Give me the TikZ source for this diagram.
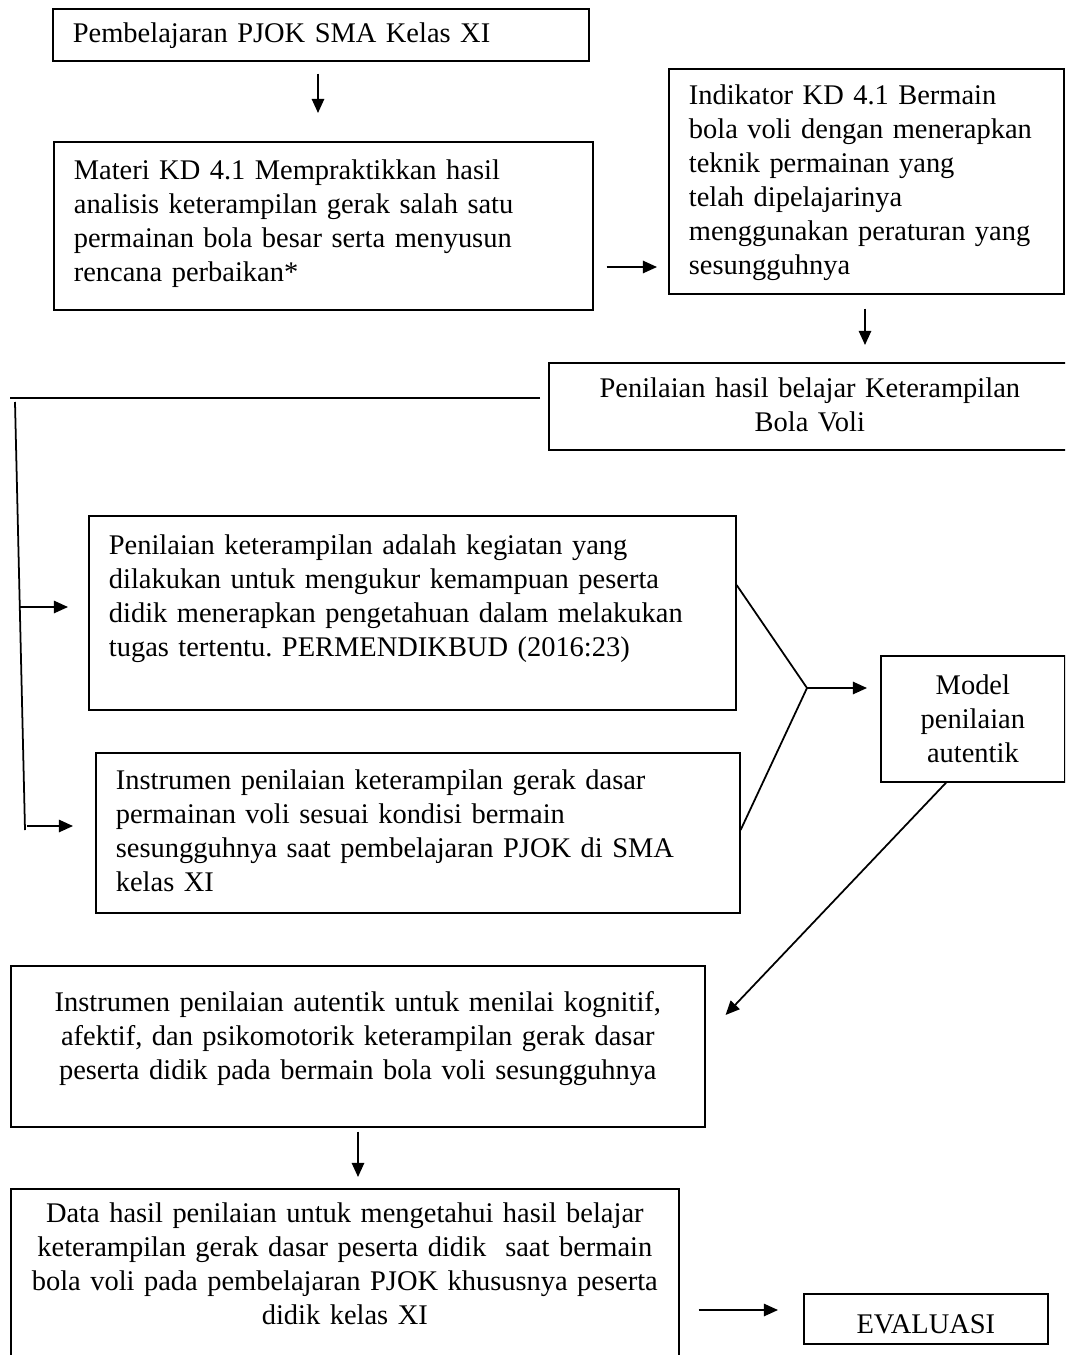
\documentclass[tikz,border=0pt]{standalone}
\usepackage{fontspec}
\setmainfont{Liberation Serif}
\usetikzlibrary{arrows.meta, positioning}

\newcommand{\boxfont}{\fontsize{16.2pt}{19.3pt}\selectfont\frenchspacing}

\tikzset{
  box/.style={draw, line width=1pt, anchor=north west, inner ysep=0pt,
    inner xsep=0.4cm, align=left, font=\boxfont},
  cbox/.style={box, inner xsep=0.1cm, align=center},
  link/.style={line width=1pt},
  arr/.style={link, -{Triangle[length=8pt, width=7pt]}}
}

\begin{document}
\begin{tikzpicture}[x=0.02cm, y=-0.02cm]
  \clip (0,0) rectangle (1065,1355);

  % Nodes
  \node[box, text width=9.92cm, text height=0.68cm, text depth=0.36cm] (pjok) at (52,8)
    {Pembelajaran PJOK SMA Kelas XI};
  \node[box, text width=9.98cm, text height=0.76cm, text depth=2.6cm] (materi) at (53,141)
    {Materi KD 4.1 Mempraktikkan hasil\\
     analisis keterampilan gerak salah satu\\
     permainan bola besar serta menyusun\\
     rencana perbaikan*};
  \node[box, text width=7.1cm, text height=0.72cm, text depth=3.78cm] (indikator) at (668,68)
    {Indikator KD 4.1 Bermain\\
     bola voli dengan menerapkan\\
     teknik permainan yang\\
     telah dipelajarinya\\
     menggunakan peraturan yang\\
     sesungguhnya};
  \node[cbox, text width=10.24cm, text height=0.7cm, text depth=1.04cm] (hasil) at (548,362)
    {Penilaian hasil belajar Keterampilan\\ Bola Voli};
  \node[box, text width=12.14cm, text height=0.78cm, text depth=3.1cm] (ketr) at (88,515)
    {Penilaian keterampilan adalah kegiatan yang\\
     dilakukan untuk mengukur kemampuan peserta\\
     didik menerapkan pengetahuan dalam melakukan\\
     tugas tertentu. PERMENDIKBUD (2016:23)};
  \node[box, text width=12.08cm, text height=0.74cm, text depth=2.46cm] (instr) at (95,752)
    {Instrumen penilaian keterampilan gerak dasar\\
     permainan voli sesuai kondisi bermain\\
     sesungguhnya saat pembelajaran PJOK di SMA\\
     kelas XI};
  \node[cbox, text width=3.48cm, text height=0.78cm, text depth=1.74cm] (model) at (880,655)
    {Model\\ penilaian\\ autentik};
  \node[cbox, text width=13.68cm, text height=0.92cm, text depth=2.3cm] (auten) at (10,965)
    {Instrumen penilaian autentik untuk menilai kognitif,\\
     afektif, dan psikomotorik keterampilan gerak dasar\\
     peserta didik pada bermain bola voli sesungguhnya};
  \node[cbox, text width=13.16cm, text height=0.68cm, text depth=4cm] (data) at (10,1188)
    {Data hasil penilaian untuk mengetahui hasil belajar\\
     keterampilan gerak dasar peserta didik~ saat bermain\\
     bola voli pada pembelajaran PJOK khususnya peserta\\
     didik kelas XI};
  \node[cbox, text width=4.68cm, text height=0.8cm, text depth=0.2cm] (eval) at (803,1293)
    {EVALUASI};

  % Edges
  \draw[arr, shorten <=0.24cm, shorten >=0.56cm] (pjok.south -| 318,0) -- (materi.north -| 318,0);
  \draw[arr, shorten <=0.26cm, shorten >=0.22cm] (materi.east |- 0,267) -- (indikator.west |- 0,267);
  \draw[arr, shorten <=0.28cm, shorten >=0.34cm] (indikator.south -| 865,0) -- (hasil.north -| 865,0);

  % bracket on the left
  \coordinate (brtop) at (10,398);
  \coordinate (brvtop) at (15,402);
  \coordinate (brvbot) at (25,830);
  \coordinate (brA) at (20,607);
  \coordinate (brB) at (27,826);
  \draw[link, shorten <=0.16cm] (hasil.west |- brtop) -- (brtop);
  \draw[link] (brvtop) -- (brvbot);
  \draw[arr, shorten >=0.4cm] (brA) -- (ketr.west |- brA);
  \draw[arr, shorten >=0.44cm] (brB) -- (instr.west |- brB);

  % both boxes into the model
  \coordinate (join) at (807,688);
  \draw[link] (ketr.east |- 0,585) -- (join);
  \draw[link] (instr.east |- 0,830) -- (join);
  \draw[arr, shorten >=0.26cm] (join) -- (model.west |- join);

  \draw[arr, shorten >=0.58cm] (model.south -| 946,0) -- (auten.east |- 0,1036);
  \draw[arr, shorten <=0.08cm, shorten >=0.22cm] (auten.south -| 358,0) -- (data.north -| 358,0);
  \draw[arr, shorten <=0.38cm, shorten >=0.5cm] (data.east |- 0,1310) -- (eval.west |- 0,1310);
\end{tikzpicture}
\end{document}
